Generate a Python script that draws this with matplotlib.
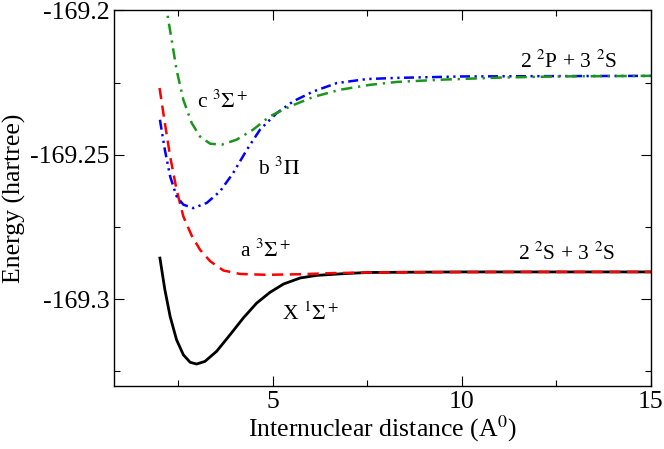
import matplotlib
matplotlib.use('Agg')
import matplotlib.pyplot as plt
from matplotlib.ticker import MultipleLocator

plt.rcParams['font.family'] = ['Liberation Serif', 'DejaVu Serif']
plt.rcParams['mathtext.fontset'] = 'stix'

# X 1Sigma+ (black, solid)
r_x = [2.01, 2.14, 2.28, 2.45, 2.63, 2.81, 2.98, 3.20, 3.51, 3.87, 4.22, 4.57, 4.92,
       5.28, 5.72, 6.16, 6.87, 7.5, 8.5, 10.0, 12.0, 15.0]
e_x = [-169.2858, -169.2967, -169.3060, -169.3141, -169.3193, -169.3219, -169.3225,
       -169.3216, -169.3181, -169.3123, -169.3065, -169.3014, -169.2977, -169.2948,
       -169.2927, -169.2918, -169.2912, -169.2908, -169.2907, -169.2906, -169.2906,
       -169.2906]

# a 3Sigma+ (red, dashed)
r_a = [2.0, 2.14, 2.28, 2.45, 2.63, 2.85, 3.07, 3.34, 3.69, 4.13, 4.84, 5.72, 6.6,
       7.5, 9.0, 12.0, 15.0]
e_a = [-169.2269, -169.2390, -169.2506, -169.2621, -169.2714, -169.2780, -169.2829,
       -169.2869, -169.2901, -169.2913, -169.2916, -169.2914, -169.2910, -169.2908,
       -169.2907, -169.2906, -169.2906]

# b 3Pi (blue, dash-dot-dot)
r_b = [2.01, 2.14, 2.28, 2.45, 2.63, 2.89, 3.25, 3.60, 3.95, 4.31, 4.66, 5.10, 5.54,
       6.07, 6.69, 7.49, 8.28, 10.0, 12.0, 15.0]
e_b = [-169.2379, -169.2483, -169.2575, -169.2644, -169.2673, -169.2685, -169.2667,
       -169.2627, -169.2563, -169.2483, -169.2413, -169.2356, -169.2315, -169.2281,
       -169.2252, -169.2238, -169.2234, -169.2229, -169.2228, -169.2227]

# c 3Sigma+ (green, dash-dot)
r_c = [2.0, 2.19, 2.32, 2.45, 2.63, 2.85, 3.07, 3.34, 3.65, 4.04, 4.48, 4.92, 5.45,
       6.07, 6.78, 7.57, 8.28, 9.5, 11.0, 12.5, 15.0]
e_c = [-169.1850, -169.2000, -169.2102, -169.2206, -169.2310, -169.2390, -169.2437,
       -169.2462, -169.2465, -169.2448, -169.2413, -169.2367, -169.2333, -169.2300,
       -169.2275, -169.2258, -169.2248, -169.2240, -169.2233, -169.2229, -169.2227]

fig = plt.figure(figsize=(6.64, 4.49), dpi=100)
ax = fig.add_axes([0.172, 0.141, 0.808, 0.836])

ax.plot(r_x, e_x, color='black', lw=2.0)
ax.plot(r_a, e_a, color='#ff0000', lw=1.8, dashes=(4.5, 2.6))
ax.plot(r_b, e_b, color='#0000ff', lw=1.8, dashes=(4, 1.8, 0.9, 1.8, 0.9, 1.8))
ax.plot(r_c, e_c, color='#1c951c', lw=1.8, dashes=(4.5, 2.3, 0.9, 2.3))

ax.set_xlim(0.8, 15)
ax.set_ylim(-169.33, -169.2)
ax.xaxis.set_major_locator(MultipleLocator(5))
ax.xaxis.set_minor_locator(MultipleLocator(2.5))
ax.yaxis.set_minor_locator(MultipleLocator(0.025))
ax.set_yticks([-169.3, -169.25, -169.2])
ax.set_yticklabels(['-169.3', '-169.25', '-169.2'])
ax.tick_params(which='both', direction='in', top=True, right=True, labelsize=18.5)
ax.tick_params(which='major', length=7.5, width=0.8)
ax.tick_params(which='minor', length=4, width=0.8)
for s in ax.spines.values():
    s.set_linewidth(1.0)

ax.set_xlabel('Internuclear distance (A$^0$)', fontsize=18.5, labelpad=1)
ax.set_ylabel('Energy (hartree)', fontsize=18.5, labelpad=3)

fs = 15.5
ax.text(3.0, -169.2338, 'c $^3\\Sigma^+$', fontsize=fs)
ax.text(4.6, -169.257, 'b $^3\\Pi$', fontsize=fs)
ax.text(4.12, -169.2855, 'a $^3\\Sigma^+$', fontsize=fs)
ax.text(5.25, -169.3073, 'X $^1\\Sigma^+$', fontsize=fs)
ax.text(11.53, -169.2199, '2 $^2$P + 3 $^2$S', fontsize=fs)
ax.text(11.5, -169.2865, '2 $^2$S + 3 $^2$S', fontsize=fs)

fig.savefig('out.png', dpi=100)
